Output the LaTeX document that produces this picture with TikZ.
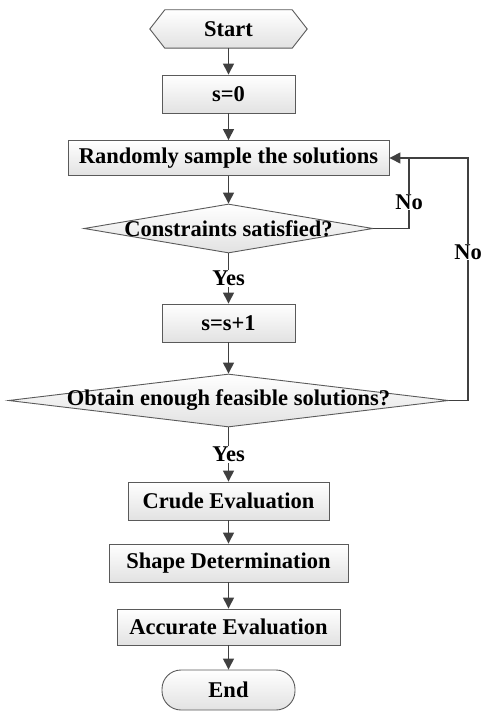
\documentclass[tikz,border=0pt]{standalone}
\usepackage{fontspec}
\setmainfont{Liberation Serif}
\usetikzlibrary{shapes.geometric,arrows.meta,backgrounds}
\definecolor{edgec}{HTML}{5A5A5A}
\definecolor{linec}{HTML}{404040}
\definecolor{shadec}{HTML}{E2E2E2}
\begin{document}
\begin{tikzpicture}[x=1pt,y=-1pt,
  txt/.style={font=\fontsize{22.5}{26}\selectfont\bfseries},
  fillshade/.style={top color=white, bottom color=shadec},
  box/.style={txt, draw=edgec, line width=0.9pt, fillshade, inner sep=0pt, minimum height=38pt},
  decision/.style={diamond, draw=edgec, line width=0.9pt, fillshade, inner sep=0pt},
  lbl/.style={txt, fill=white, inner sep=1pt},
  conn/.style={draw=linec, line width=1.4pt},
  arr/.style={conn, -{Triangle[length=11pt,width=11pt]}}
]
\useasboundingbox (0,0) rectangle (481,711);

% Start (hexagon drawn on background)
\node[txt, minimum width=157pt, minimum height=38pt, inner sep=0pt] (start) at (228.5,29) {Start};
\begin{pgfonlayer}{background}
\path[draw=edgec, line width=0.9pt, fillshade]
  (start.west) -- ([xshift=15pt]start.north west) -- ([xshift=-15pt]start.north east)
  -- (start.east) -- ([xshift=-15pt]start.south east) -- ([xshift=15pt]start.south west) -- cycle;
\end{pgfonlayer}

\node[box, minimum width=133pt] (s0) at (228.5,94) {s=0};
\node[box, minimum width=321pt, minimum height=35pt] (rand) at (228.5,158) {Randomly sample the solutions};
\node[decision, minimum width=289pt, minimum height=49pt,
      label={[txt]center:Constraints satisfied?}] (cons) at (228.5,228.5) {};
\node[box, minimum width=133pt] (s1) at (228.5,323) {s=s+1};
\node[decision, minimum width=440pt, minimum height=53pt,
      label={[txt]center:Obtain enough feasible solutions?}] (obt) at (228.5,400.5) {};
\node[box, minimum width=201pt] (crude) at (228.5,501) {Crude Evaluation};
\node[box, minimum width=239pt] (shape) at (228.5,563) {Shape Determination};
\node[box, minimum width=223pt, minimum height=36pt] (acc) at (228.5,627) {Accurate Evaluation};
\node[box, minimum width=133pt, minimum height=40pt, rounded corners=19pt] (end) at (228.5,690) {End};

% main flow
\draw[arr] (start.south) -- (s0.north);
\draw[arr] (s0.south) -- (rand.north);
\draw[arr] (rand.south) -- (cons.north);
\draw[arr] (cons.south) -- (s1.north) node[lbl, midway] (yes1) {Yes};
\draw[arr] (s1.south) -- (obt.north);
\draw[arr] (obt.south) -- (crude.north) node[lbl, midway] (yes2) {Yes};
\draw[arr] (crude.south) -- (shape.north);
\draw[arr] (shape.south) -- (acc.north);
\draw[arr] (acc.south) -- (end.north);

% loops
\coordinate (j1) at (409,158);
\coordinate (j2) at (468,158);
\draw[conn] (cons.east) -| (j1);
\draw[conn] (obt.east) -| (j2) -- (j1);
\draw[arr] (j1) -- (rand.east);
\node[lbl] (no1) at (409,202) {No};
\node[lbl] (no2) at (468,252) {No};
\end{tikzpicture}
\end{document}
